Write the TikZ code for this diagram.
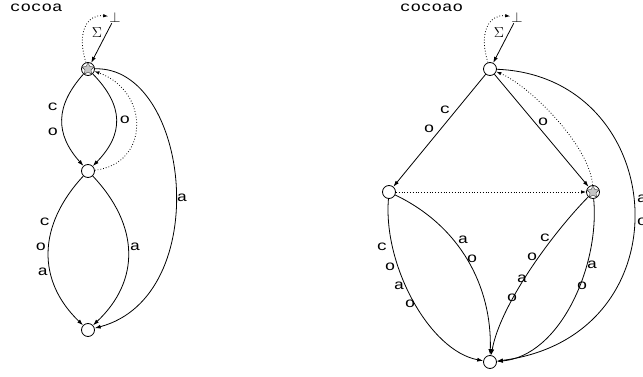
\documentclass[tikz,border=0pt]{standalone}
\usepackage{fontspec}
\setmonofont[FakeStretch=1.25]{Liberation Mono}
\usetikzlibrary{arrows.meta,shapes.geometric}
\begin{document}
\begin{tikzpicture}[x=1pt,y=1pt,
  state/.style={circle,draw,line width=0.8pt,minimum size=13pt,inner sep=0pt,fill=white},
  starmark/.style={star,star points=5,star point ratio=2.0,fill=gray!45,draw=black!80,line width=0.4pt,minimum size=12.5pt,inner sep=0pt},
  lbl/.style={font=\fontsize{14}{14}\selectfont\ttfamily,inner sep=0pt},
  sym/.style={font=\fontsize{14}{14}\selectfont,inner sep=1pt},
  edge/.style={line width=0.8pt,-{Latex[length=6pt,width=4pt]}},
  fail/.style={line width=0.8pt,dotted,-{Latex[length=5pt,width=3.5pt]}},
]
\useasboundingbox (0,0) rectangle (643,376);
% ---------- left automaton ----------
\node[lbl,anchor=west] (t1) at (10,368.5) {cocoa};
\node[state] (A) at (88,307) {};
\node[starmark] (As) at (A) {};
\node[state] (B) at (88,205) {};
\node[state] (C) at (88,46) {};
\node[sym] (bot1) at (115,359) {$\bot$};
\node[sym] (sig1) at (97,343) {$\Sigma$};
\draw[edge] (bot1) -- (A);
\draw[fail] (A) .. controls (76,345) and (88,362) .. (bot1);
\draw[edge] (A) .. controls (55,270) and (55,242) .. (B);
\draw[edge] (A) .. controls (124,270) and (124,242) .. (B);
\draw[fail] (B) .. controls (150,212) and (150,285) .. (A);
\draw[edge] (A) .. controls (190,310) and (215,80) .. (C);
\draw[edge] (B) .. controls (37,150) and (37,95) .. (C);
\draw[edge] (B) .. controls (140,150) and (140,95) .. (C);
\node[lbl] (l1) at (53,269) {c};
\node[lbl] (l2) at (53,244) {o};
\node[lbl] (l3) at (125,256) {o};
\node[lbl] (l4) at (182,178) {a};
\node[lbl] (l5) at (45,154) {c};
\node[lbl] (l6) at (41,129) {o};
\node[lbl] (l7) at (43,104) {a};
\node[lbl] (l8) at (135,129) {a};
% ---------- right automaton ----------
\node[lbl,anchor=west] (t2) at (400,368.5) {cocoao};
\node[state] (R) at (490,307) {};
\node[state] (P) at (389,184) {};
\node[state] (Q) at (593,184) {};
\node[starmark] (Qs) at (Q) {};
\node[state] (S) at (490,14) {};
\node[sym] (bot2) at (517,359) {$\bot$};
\node[sym] (sig2) at (499,343) {$\Sigma$};
\draw[edge] (bot2) -- (R);
\draw[fail] (R) .. controls (478,345) and (490,362) .. (bot2);
\draw[edge] (R) -- (P);
\draw[edge] (R) -- (Q);
\draw[fail] (Q) .. controls (590,230) and (530,290) .. (R);
\draw[fail] (P) -- (Q);
\draw[edge] (R) .. controls (670,300) and (690,40) .. (S);
\draw[edge] (P) .. controls (383,110) and (430,25) .. (S);
\draw[edge] (P) .. controls (460,150) and (492,90) .. (S);
\draw[edge] (Q) .. controls (550,140) and (500,70) .. (S);
\draw[edge] (Q) .. controls (600,110) and (560,20) .. (S);
\node[lbl] (r1) at (445,266) {c};
\node[lbl] (r2) at (429,247) {o};
\node[lbl] (r3) at (543,254) {o};
\node[lbl] (r4) at (642,177) {a};
\node[lbl] (r5) at (642,154) {o};
\node[lbl] (r6) at (382,129) {c};
\node[lbl] (r7) at (390,109) {o};
\node[lbl] (r8) at (399,90) {a};
\node[lbl] (r9) at (410,72) {o};
\node[lbl] (r10) at (463,136) {a};
\node[lbl] (r11) at (472,117) {o};
\node[lbl] (r12) at (545,138) {c};
\node[lbl] (r13) at (532,119) {o};
\node[lbl] (r14) at (522,97) {a};
\node[lbl] (r15) at (512,78) {o};
\node[lbl] (r16) at (592,111) {a};
\node[lbl] (r17) at (582,90) {o};
\end{tikzpicture}
\end{document}
